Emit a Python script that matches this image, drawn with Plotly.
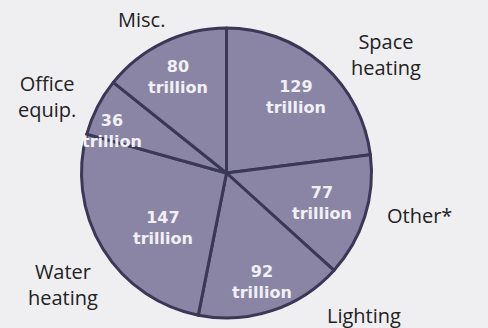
import math
import plotly.graph_objects as go

categories = ["Space heating", "Other*", "Lighting", "Water heating", "Office equip.", "Misc."]
values = [129, 77, 92, 147, 36, 80]
unit = "trillion"

outer_labels = ["Space<br>heating", "Other*", "Lighting", "Water<br>heating", "Office<br>equip.", "Misc."]
# label centre positions in pixels (x, y from top)
outer_pos = [(386, 54), (419, 215), (364, 315), (63, 284), (47, 96), (141, 19)]
# inside value label placement: radial fraction and angle offset (deg) from slice bisector
inner_rfrac = [0.71, 0.69, 0.79, 0.58, 0.84, 0.74]
inner_dang = [1, 0, 0, -9, -7, -1]

W, H = 488, 328
dom_x = [80 / W, 373 / W]
dom_y = [10 / H, 300 / H]

fig = go.Figure(go.Pie(
    labels=categories,
    values=values,
    sort=False,
    direction="clockwise",
    rotation=0,
    textinfo="none",
    marker=dict(colors=["#8a85a4"] * len(values), line=dict(color="#3b3756", width=3)),
    domain=dict(x=dom_x, y=dom_y),
    hoverinfo="skip",
    showlegend=False,
))

# pie geometry in pixels
cx = (dom_x[0] + dom_x[1]) / 2 * W
cy = H - (dom_y[0] + dom_y[1]) / 2 * H
r = min((dom_x[1] - dom_x[0]) * W, (dom_y[1] - dom_y[0]) * H) / 2
total = sum(values)
cum = 0
for v, rf, da in zip(values, inner_rfrac, inner_dang):
    mid = (cum + v / 2) / total * 360 + da
    cum += v
    a = math.radians(mid)
    px = cx + rf * r * math.sin(a)
    py = cy - rf * r * math.cos(a)
    fig.add_annotation(
        x=px / W, y=1 - py / H, xref="paper", yref="paper",
        text=f"{v}<br>{unit}", showarrow=False, xanchor="center", yanchor="middle",
        font=dict(family="DejaVu Sans", size=16, color="#f1f0f6", weight="bold"),
    )

for txt, (px, py) in zip(outer_labels, outer_pos):
    fig.add_annotation(
        x=px / W, y=1 - py / H, xref="paper", yref="paper",
        text=txt, showarrow=False, xanchor="center", yanchor="middle",
        font=dict(family="Open Sans", size=20, color="#222222"),
    )

fig.update_layout(
    width=W, height=H,
    margin=dict(l=0, r=0, t=0, b=0),
    paper_bgcolor="#efeff2",
    plot_bgcolor="#efeff2",
)

fig.write_html("out.html")
